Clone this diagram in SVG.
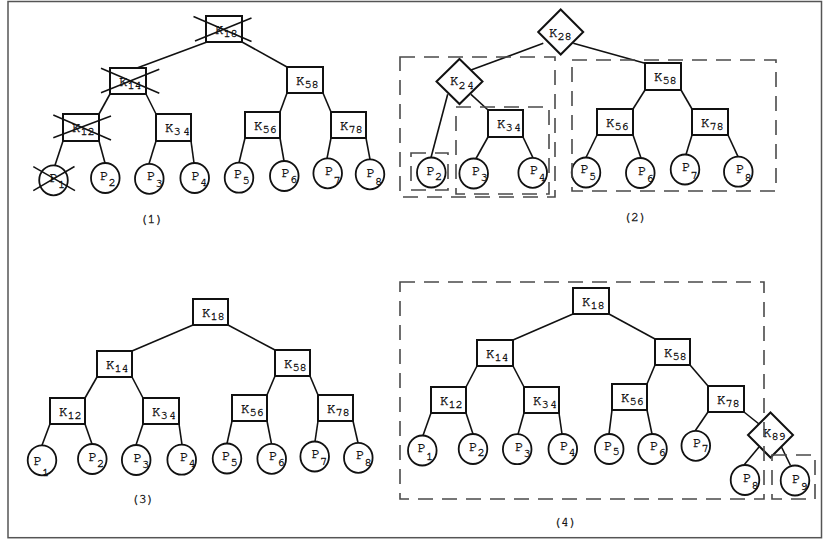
<svg xmlns="http://www.w3.org/2000/svg" width="823" height="540" viewBox="0 0 823 540">
  <style>
    .frame { fill: #fff; stroke: #555; stroke-width: 1.5; }
    .box { fill: #fff; stroke: #111; stroke-width: 2; }
    .leaf { fill: #fff; stroke: #111; stroke-width: 1.8; }
    .edge { stroke: #111; stroke-width: 1.6; fill: none; }
    .cross { stroke: #111; stroke-width: 1.5; }
    .region { fill: none; stroke: #4a4a4a; stroke-width: 1.6; stroke-dasharray: 15 9; }
    text { font-family: "Nimbus Mono PS", "FreeMono", "Courier New", "Liberation Mono", monospace; font-size: 14px; fill: #111; stroke: #111; stroke-width: 0.35; }
    .sub { font-size: 12px; }
    .cap { font-size: 13px; text-anchor: middle; }
  </style>

  <rect class="frame" x="8" y="1.5" width="813.5" height="536.2"/>

  <!-- Panel (1): deletion of P1 -->
  <g id="panel1">
    <g id="panel1-edges">
      <line class="edge" x1="207" y1="42" x2="137" y2="68"/>
      <line class="edge" x1="242" y1="42" x2="287" y2="67"/>
      <line class="edge" x1="110" y1="94" x2="99" y2="114"/>
      <line class="edge" x1="146" y1="94" x2="156" y2="114"/>
      <line class="edge" x1="287" y1="93" x2="280" y2="112"/>
      <line class="edge" x1="323" y1="93" x2="331" y2="112"/>
      <line class="edge" x1="63" y1="141" x2="55" y2="165.3"/>
      <line class="edge" x1="99" y1="141" x2="105" y2="163"/>
      <line class="edge" x1="156" y1="141" x2="149" y2="163.8"/>
      <line class="edge" x1="191" y1="141" x2="194" y2="163"/>
      <line class="edge" x1="245" y1="138" x2="239" y2="162.7"/>
      <line class="edge" x1="280" y1="138" x2="284" y2="161"/>
      <line class="edge" x1="331" y1="138" x2="327" y2="158.3"/>
      <line class="edge" x1="366" y1="138" x2="370" y2="159.3"/>
    </g>
    <g id="p1-k18">
      <rect class="box" x="206" y="16" width="36" height="26"/>
      <text x="215" y="33.5">K<tspan class="sub" dy="3">18</tspan></text>
      <line class="cross" x1="193.5" y1="16.5" x2="251.5" y2="41.5"/>
      <line class="cross" x1="195" y1="41" x2="251.5" y2="18"/>
    </g>
    <g id="p1-k14">
      <rect class="box" x="110" y="68" width="36" height="26"/>
      <text x="119" y="85.5">K<tspan class="sub" dy="3">14</tspan></text>
      <line class="cross" x1="101" y1="68.3" x2="159.3" y2="93.3"/>
      <line class="cross" x1="101" y1="92.7" x2="159.3" y2="69.3"/>
    </g>
    <g id="p1-k58">
      <rect class="box" x="287" y="67" width="36" height="26"/>
      <text x="296" y="84.5">K<tspan class="sub" dy="3">58</tspan></text>
    </g>
    <g id="p1-k12">
      <rect class="box" x="63" y="114" width="36" height="27"/>
      <text x="72" y="132">K<tspan class="sub" dy="3">12</tspan></text>
      <line class="cross" x1="53.3" y1="115" x2="111" y2="140"/>
      <line class="cross" x1="53.3" y1="137.7" x2="111" y2="116"/>
    </g>
    <g id="p1-k34">
      <rect class="box" x="156" y="114" width="35" height="27"/>
      <text x="165" y="132">K<tspan class="sub" dy="3" letter-spacing="2.5">34</tspan></text>
    </g>
    <g id="p1-k56">
      <rect class="box" x="245" y="112" width="35" height="26"/>
      <text x="254" y="129.5">K<tspan class="sub" dy="3">56</tspan></text>
    </g>
    <g id="p1-k78">
      <rect class="box" x="331" y="112" width="35" height="26"/>
      <text x="340" y="129.5">K<tspan class="sub" dy="3.5">78</tspan></text>
    </g>
    <g id="p1-p1">
      <ellipse class="leaf" cx="53.5" cy="180.3" rx="14.3" ry="15"/>
      <text x="49.5" y="182.3">P<tspan class="sub" dy="6">1</tspan></text>
      <line class="cross" x1="33.3" y1="190.7" x2="74.5" y2="166.5"/>
      <line class="cross" x1="33.3" y1="166.7" x2="75" y2="190.7"/>
    </g>
    <g id="p1-p2">
      <ellipse class="leaf" cx="105.3" cy="178" rx="14.3" ry="15"/>
      <text x="100" y="180">P<tspan class="sub" dy="6">2</tspan></text>
    </g>
    <g id="p1-p3">
      <ellipse class="leaf" cx="149.3" cy="178.8" rx="14.3" ry="15"/>
      <text x="147" y="179.5">P<tspan class="sub" dy="7">3</tspan></text>
    </g>
    <g id="p1-p4">
      <ellipse class="leaf" cx="194.7" cy="178" rx="14.3" ry="15"/>
      <text x="191.5" y="179.5">P<tspan class="sub" dy="6">4</tspan></text>
    </g>
    <g id="p1-p5">
      <ellipse class="leaf" cx="239" cy="177.7" rx="14.3" ry="15"/>
      <text x="234" y="177.5">P<tspan class="sub" dy="6">5</tspan></text>
    </g>
    <g id="p1-p6">
      <ellipse class="leaf" cx="284.3" cy="176" rx="14.3" ry="15"/>
      <text x="281.5" y="177.3">P<tspan class="sub" dy="6">6</tspan></text>
    </g>
    <g id="p1-p7">
      <ellipse class="leaf" cx="327.7" cy="173.3" rx="14.3" ry="15"/>
      <text x="325" y="175">P<tspan class="sub" dy="9">7</tspan></text>
    </g>
    <g id="p1-p8">
      <ellipse class="leaf" cx="370" cy="174.3" rx="14.3" ry="15"/>
      <text x="366.5" y="176.5">P<tspan class="sub" dy="8">8</tspan></text>
    </g>
    <text class="cap" x="151.5" y="222.5">(1)</text>
  </g>

  <!-- Panel (2): K28 / K24 restructuring -->
  <g id="panel2">
    <g id="panel2-edges">
      <line class="edge" x1="543.3" y1="43.3" x2="471" y2="70"/>
      <line class="edge" x1="573.3" y1="43.3" x2="645" y2="63.3"/>
      <line class="edge" x1="447.7" y1="94.3" x2="431" y2="157.5"/>
      <line class="edge" x1="471" y1="94.3" x2="488" y2="110"/>
      <line class="edge" x1="488" y1="137" x2="476" y2="158.5"/>
      <line class="edge" x1="523" y1="137" x2="533" y2="157.8"/>
      <line class="edge" x1="645" y1="90" x2="633" y2="109"/>
      <line class="edge" x1="681" y1="90" x2="692" y2="109"/>
      <line class="edge" x1="597" y1="135" x2="586" y2="157.5"/>
      <line class="edge" x1="633" y1="135" x2="641" y2="158"/>
      <line class="edge" x1="692" y1="135" x2="686" y2="154.5"/>
      <line class="edge" x1="728" y1="135" x2="738" y2="156.7"/>
    </g>
    <g id="p2-k28">
      <polygon class="box" points="560.7,9.5 583.2,32 560.7,54.5 538.2,32"/>
      <text x="549" y="36.5">K<tspan class="sub" dy="3.5">28</tspan></text>
    </g>
    <g id="p2-k24">
      <polygon class="box" points="459.5,59 482.5,81.5 459.5,104 436.5,81.5"/>
      <text x="450" y="85">K<tspan class="sub" dy="3.5" letter-spacing="1.5">24</tspan></text>
    </g>
    <g id="p2-k58">
      <rect class="box" x="645" y="63" width="36" height="27"/>
      <text x="654" y="81">K<tspan class="sub" dy="3">58</tspan></text>
    </g>
    <g id="p2-k34">
      <rect class="box" x="488" y="110" width="35" height="27"/>
      <text x="497" y="128">K<tspan class="sub" dy="3" letter-spacing="1.5">34</tspan></text>
    </g>
    <g id="p2-k56">
      <rect class="box" x="597" y="109" width="36" height="26"/>
      <text x="606" y="126.5">K<tspan class="sub" dy="3">56</tspan></text>
    </g>
    <g id="p2-k78">
      <rect class="box" x="692" y="109" width="36" height="26"/>
      <text x="701" y="126.5">K<tspan class="sub" dy="3.5">78</tspan></text>
    </g>
    <g id="p2-p2">
      <ellipse class="leaf" cx="431.3" cy="172.5" rx="14.3" ry="15"/>
      <text x="426.5" y="174.5">P<tspan class="sub" dy="5">2</tspan></text>
    </g>
    <g id="p2-p3">
      <ellipse class="leaf" cx="473.7" cy="173.5" rx="14.3" ry="15"/>
      <text x="472" y="175">P<tspan class="sub" dy="6">3</tspan></text>
    </g>
    <g id="p2-p4">
      <ellipse class="leaf" cx="532.7" cy="172.8" rx="14.3" ry="15"/>
      <text x="530" y="173.5">P<tspan class="sub" dy="7">4</tspan></text>
    </g>
    <g id="p2-p5">
      <ellipse class="leaf" cx="586" cy="172.5" rx="14.3" ry="15"/>
      <text x="580.5" y="173">P<tspan class="sub" dy="7">5</tspan></text>
    </g>
    <g id="p2-p6">
      <ellipse class="leaf" cx="640.3" cy="173" rx="14.3" ry="15"/>
      <text x="638" y="174.5">P<tspan class="sub" dy="7">6</tspan></text>
    </g>
    <g id="p2-p7">
      <ellipse class="leaf" cx="685" cy="169.5" rx="14.3" ry="15"/>
      <text x="682" y="170.5">P<tspan class="sub" dy="8">7</tspan></text>
    </g>
    <g id="p2-p8">
      <ellipse class="leaf" cx="738.3" cy="171.7" rx="14.3" ry="15"/>
      <text x="736" y="173">P<tspan class="sub" dy="8">8</tspan></text>
    </g>
    <g id="panel2-regions">
      <rect class="region" x="400" y="57" width="155" height="140"/>
      <rect class="region" x="456" y="107" width="93" height="87"/>
      <rect class="region" x="411" y="153" width="37" height="37"/>
      <rect class="region" x="572" y="60" width="204" height="131"/>
    </g>
    <text class="cap" x="635" y="220.5">(2)</text>
  </g>

  <!-- Panel (3): balanced tree K18 -->
  <g id="panel3">
    <g id="panel3-edges">
      <line class="edge" x1="193" y1="325" x2="132" y2="351"/>
      <line class="edge" x1="228" y1="325" x2="275" y2="350"/>
      <line class="edge" x1="97" y1="377" x2="85" y2="398"/>
      <line class="edge" x1="132" y1="377" x2="143" y2="398"/>
      <line class="edge" x1="275" y1="376" x2="267" y2="395"/>
      <line class="edge" x1="310" y1="376" x2="318" y2="395"/>
      <line class="edge" x1="50" y1="424" x2="42" y2="445.3"/>
      <line class="edge" x1="85" y1="424" x2="92" y2="444"/>
      <line class="edge" x1="143" y1="424" x2="136" y2="445"/>
      <line class="edge" x1="179" y1="424" x2="182" y2="444.7"/>
      <line class="edge" x1="232" y1="421" x2="227" y2="443.5"/>
      <line class="edge" x1="267" y1="421" x2="271.5" y2="443.8"/>
      <line class="edge" x1="318" y1="421" x2="315" y2="441.5"/>
      <line class="edge" x1="353" y1="421" x2="358" y2="442.8"/>
    </g>
    <g id="p3-k18">
      <rect class="box" x="193" y="299" width="35" height="26"/>
      <text x="202" y="316.5">K<tspan class="sub" dy="3">18</tspan></text>
    </g>
    <g id="p3-k14">
      <rect class="box" x="97" y="351" width="35" height="26"/>
      <text x="106" y="368.5">K<tspan class="sub" dy="3">14</tspan></text>
    </g>
    <g id="p3-k58">
      <rect class="box" x="275" y="350" width="35" height="26"/>
      <text x="284" y="367.5">K<tspan class="sub" dy="3">58</tspan></text>
    </g>
    <g id="p3-k12">
      <rect class="box" x="50" y="398" width="35" height="26"/>
      <text x="59" y="415.5">K<tspan class="sub" dy="3">12</tspan></text>
    </g>
    <g id="p3-k34">
      <rect class="box" x="143" y="398" width="36" height="26"/>
      <text x="152" y="415.5">K<tspan class="sub" dy="3" letter-spacing="1.5">34</tspan></text>
    </g>
    <g id="p3-k56">
      <rect class="box" x="232" y="395" width="35" height="26"/>
      <text x="241" y="412.5">K<tspan class="sub" dy="3">56</tspan></text>
    </g>
    <g id="p3-k78">
      <rect class="box" x="318" y="395" width="35" height="26"/>
      <text x="327" y="412.5">K<tspan class="sub" dy="3.5">78</tspan></text>
    </g>
    <g id="p3-p1">
      <ellipse class="leaf" cx="42" cy="460.3" rx="14.3" ry="15"/>
      <text x="33.5" y="465">P<tspan class="sub" dy="11">1</tspan></text>
    </g>
    <g id="p3-p2">
      <ellipse class="leaf" cx="92.3" cy="459" rx="14.3" ry="15"/>
      <text x="88.5" y="460.5">P<tspan class="sub" dy="6">2</tspan></text>
    </g>
    <g id="p3-p3">
      <ellipse class="leaf" cx="136.2" cy="460" rx="14.3" ry="15"/>
      <text x="133.5" y="461.5">P<tspan class="sub" dy="6">3</tspan></text>
    </g>
    <g id="p3-p4">
      <ellipse class="leaf" cx="181.7" cy="459.7" rx="14.3" ry="15"/>
      <text x="180" y="460.5">P<tspan class="sub" dy="6">4</tspan></text>
    </g>
    <g id="p3-p5">
      <ellipse class="leaf" cx="227" cy="458.5" rx="14.3" ry="15"/>
      <text x="222" y="459.5">P<tspan class="sub" dy="6">5</tspan></text>
    </g>
    <g id="p3-p6">
      <ellipse class="leaf" cx="271.7" cy="458.8" rx="14.3" ry="15"/>
      <text x="269" y="459.5">P<tspan class="sub" dy="6">6</tspan></text>
    </g>
    <g id="p3-p7">
      <ellipse class="leaf" cx="314.7" cy="456.5" rx="14.3" ry="15"/>
      <text x="311.5" y="457.5">P<tspan class="sub" dy="7">7</tspan></text>
    </g>
    <g id="p3-p8">
      <ellipse class="leaf" cx="358.3" cy="457.8" rx="14.3" ry="15"/>
      <text x="356" y="459">P<tspan class="sub" dy="7">8</tspan></text>
    </g>
    <text class="cap" x="142.7" y="503">(3)</text>
  </g>

  <!-- Panel (4): insertion of P9 via K89 -->
  <g id="panel4">
    <g id="panel4-edges">
      <line class="edge" x1="573" y1="314" x2="513" y2="340"/>
      <line class="edge" x1="609" y1="314" x2="655" y2="339"/>
      <line class="edge" x1="477" y1="366" x2="466" y2="387"/>
      <line class="edge" x1="513" y1="366" x2="524" y2="387"/>
      <line class="edge" x1="655" y1="365" x2="647" y2="384"/>
      <line class="edge" x1="690" y1="365" x2="708" y2="386"/>
      <line class="edge" x1="431" y1="413" x2="423" y2="435.5"/>
      <line class="edge" x1="466" y1="413" x2="473" y2="434"/>
      <line class="edge" x1="524" y1="413" x2="518" y2="434.2"/>
      <line class="edge" x1="559" y1="413" x2="562" y2="434"/>
      <line class="edge" x1="612" y1="410" x2="609" y2="434"/>
      <line class="edge" x1="647" y1="410" x2="652" y2="434"/>
      <line class="edge" x1="708" y1="412" x2="695" y2="431"/>
      <line class="edge" x1="744" y1="412" x2="759" y2="424"/>
      <line class="edge" x1="759" y1="447" x2="744" y2="465"/>
      <line class="edge" x1="781.5" y1="447" x2="790.5" y2="465.5"/>
    </g>
    <g id="p4-k18">
      <rect class="box" x="573" y="288" width="36" height="26"/>
      <text x="582" y="305.5">K<tspan class="sub" dy="3">18</tspan></text>
    </g>
    <g id="p4-k14">
      <rect class="box" x="477" y="340" width="36" height="26"/>
      <text x="486" y="357.5">K<tspan class="sub" dy="3">14</tspan></text>
    </g>
    <g id="p4-k58">
      <rect class="box" x="655" y="339" width="35" height="26"/>
      <text x="664" y="356.5">K<tspan class="sub" dy="3">58</tspan></text>
    </g>
    <g id="p4-k12">
      <rect class="box" x="431" y="387" width="35" height="26"/>
      <text x="440" y="404.5">K<tspan class="sub" dy="3">12</tspan></text>
    </g>
    <g id="p4-k34">
      <rect class="box" x="524" y="387" width="35" height="26"/>
      <text x="533" y="404.5">K<tspan class="sub" dy="3" letter-spacing="1.5">34</tspan></text>
    </g>
    <g id="p4-k56">
      <rect class="box" x="612" y="384" width="35" height="26"/>
      <text x="621" y="401.5">K<tspan class="sub" dy="3">56</tspan></text>
    </g>
    <g id="p4-k78">
      <rect class="box" x="708" y="386" width="36" height="26"/>
      <text x="717" y="403.5">K<tspan class="sub" dy="3.5">78</tspan></text>
    </g>
    <g id="p4-k89">
      <polygon class="box" points="770.5,412.5 793,435 770.5,457.5 748,435"/>
      <text x="763" y="437">K<tspan class="sub" dy="2.5">89</tspan></text>
    </g>
    <g id="p4-p1">
      <ellipse class="leaf" cx="422.3" cy="450.5" rx="14.3" ry="15"/>
      <text x="417.5" y="452">P<tspan class="sub" dy="8">1</tspan></text>
    </g>
    <g id="p4-p2">
      <ellipse class="leaf" cx="473" cy="449" rx="14.3" ry="15"/>
      <text x="469" y="450.5">P<tspan class="sub" dy="5">2</tspan></text>
    </g>
    <g id="p4-p3">
      <ellipse class="leaf" cx="517.2" cy="449.2" rx="14.3" ry="15"/>
      <text x="515" y="451">P<tspan class="sub" dy="6">3</tspan></text>
    </g>
    <g id="p4-p4">
      <ellipse class="leaf" cx="562.8" cy="449" rx="14.3" ry="15"/>
      <text x="560" y="449.5">P<tspan class="sub" dy="6">4</tspan></text>
    </g>
    <g id="p4-p5">
      <ellipse class="leaf" cx="609.2" cy="449" rx="14.3" ry="15"/>
      <text x="604" y="450">P<tspan class="sub" dy="5">5</tspan></text>
    </g>
    <g id="p4-p6">
      <ellipse class="leaf" cx="652.5" cy="449" rx="14.3" ry="15"/>
      <text x="650" y="450">P<tspan class="sub" dy="6">6</tspan></text>
    </g>
    <g id="p4-p7">
      <ellipse class="leaf" cx="695.8" cy="445.8" rx="14.3" ry="15"/>
      <text x="693" y="447">P<tspan class="sub" dy="5">7</tspan></text>
    </g>
    <g id="p4-p8">
      <ellipse class="leaf" cx="745" cy="480" rx="14.3" ry="15"/>
      <text x="743" y="481.5">P<tspan class="sub" dy="7">8</tspan></text>
    </g>
    <g id="p4-p9">
      <ellipse class="leaf" cx="795" cy="480.5" rx="14.3" ry="15"/>
      <text x="792" y="482.5">P<tspan class="sub" dy="7">9</tspan></text>
    </g>
    <g id="panel4-regions">
      <rect class="region" x="400" y="282" width="364" height="217"/>
      <rect class="region" x="772" y="455" width="43" height="44"/>
    </g>
    <text class="cap" x="565" y="526">(4)</text>
  </g>
</svg>
